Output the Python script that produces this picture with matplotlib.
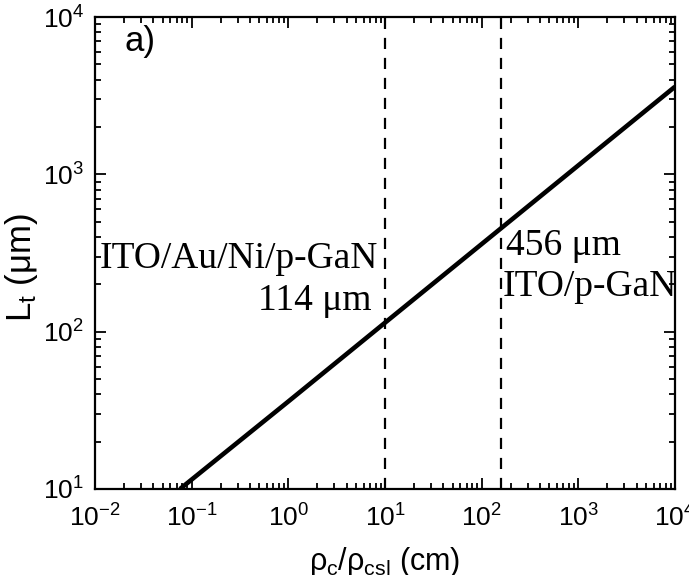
import math
import matplotlib.pyplot as plt
from matplotlib.ticker import LogLocator, NullFormatter, FuncFormatter

# transfer length vs rho_c / rho_csl (straight line on log-log)
ratio = [0.0757, 1.0, 10.0, 160.0, 10000.0]
lt_um = [10.0, 36.0, 114.0, 456.0, 3606.0]

# contact positions (dashed markers)
contact_x = [10.0, 160.0]

plt.rcParams['font.family'] = ['Liberation Sans', 'DejaVu Sans']
plt.rcParams['mathtext.fontset'] = 'custom'
plt.rcParams['mathtext.rm'] = 'Liberation Sans'
plt.rcParams['mathtext.it'] = 'Liberation Sans'
plt.rcParams['mathtext.sf'] = 'Liberation Sans'

fig = plt.figure(figsize=(6.89, 5.75), dpi=100)
ax = fig.add_axes([95 / 689, 1 - 489 / 575, 580 / 689, 472 / 575])

ax.plot(ratio, lt_um, color='black', lw=3.3, solid_capstyle='butt')
for cx in contact_x:
    ax.axvline(cx, color='black', lw=1.6, ls=(0, (5, 4)))

ax.set_xscale('log')
ax.set_yscale('log')
ax.set_xlim(1e-2, 1e4)
ax.set_ylim(1e1, 1e4)

def pow_label(v, pos):
    e = int(round(math.log10(v)))
    return r'10$^{\mathregular{%s}}$' % ('-%d' % -e if e < 0 else '%d' % e)

ax.xaxis.set_major_locator(LogLocator(base=10, numticks=10))
ax.yaxis.set_major_locator(LogLocator(base=10, numticks=10))
ax.xaxis.set_major_formatter(FuncFormatter(pow_label))
ax.yaxis.set_major_formatter(FuncFormatter(pow_label))
ax.xaxis.set_minor_locator(LogLocator(base=10, subs=range(2, 10), numticks=20))
ax.yaxis.set_minor_locator(LogLocator(base=10, subs=range(2, 10), numticks=20))
ax.xaxis.set_minor_formatter(NullFormatter())
ax.yaxis.set_minor_formatter(NullFormatter())

ax.tick_params(which='both', direction='in', top=True, right=True, width=1.3)
ax.tick_params(which='major', length=8, labelsize=19)
ax.tick_params(axis='x', which='major', pad=11)
ax.tick_params(axis='y', which='major', pad=8)
ax.tick_params(which='minor', length=4.5)
for sp in ax.spines.values():
    sp.set_linewidth(1.6)

ax.set_xlabel(r'$\rho_c/\rho_{csl}$ (cm)', fontsize=22)
ax.xaxis.set_label_coords(0.5, -0.118)
ax.set_ylabel(r'$L_t$ ($\mu$m)', fontsize=25)
ax.yaxis.set_label_coords(-0.095, 0.468)

ax.text(0.05, 0.983, 'a)', transform=ax.transAxes, fontsize=25, va='top', ha='left')

serif = ['Liberation Serif', 'DejaVu Serif']
ax.text(8.45, 254, 'ITO/Au/Ni/p-GaN', family=serif, fontsize=27, ha='right', va='baseline')
ax.text(7.3, 137, '114 μm', family=serif, fontsize=27, ha='right', va='baseline')
ax.text(178, 307, '456 μm', family=serif, fontsize=27, ha='left', va='baseline')
ax.text(166, 169, 'ITO/p-GaN', family=serif, fontsize=27, ha='left', va='baseline')

fig.savefig('out.png', dpi=100)
